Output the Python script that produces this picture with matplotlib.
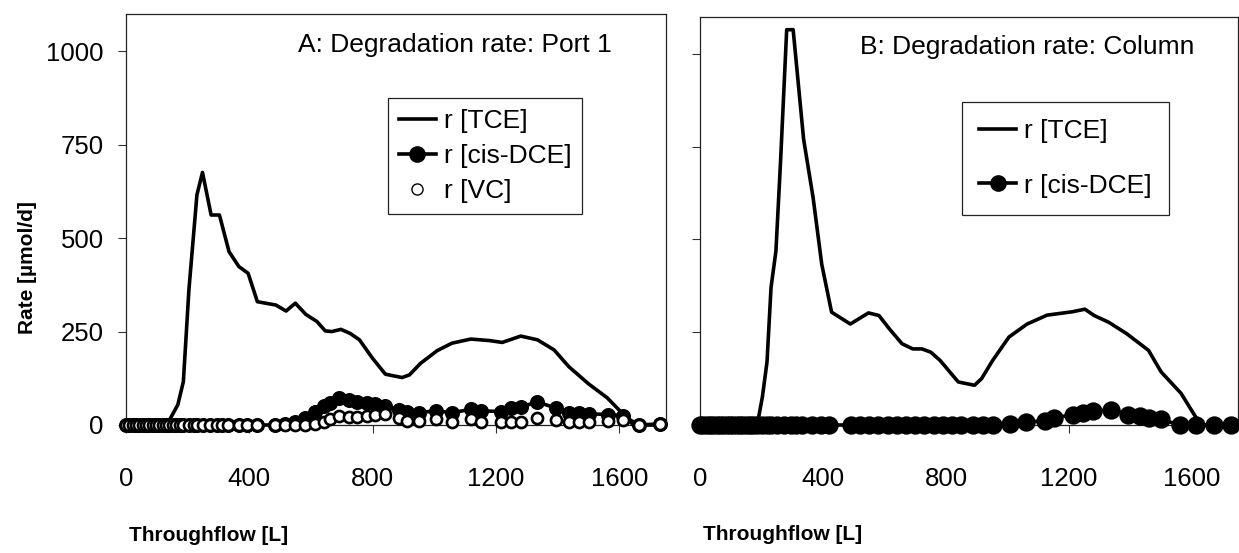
import matplotlib
matplotlib.use('Agg')
import matplotlib.pyplot as plt
from matplotlib.lines import Line2D

plt.rcParams['font.family'] = ['Liberation Sans', 'DejaVu Sans']

# ---- panel A: Port 1 ----
a_tce_x = [0, 132, 168, 186, 204, 230, 248, 276, 303, 334, 366, 396, 426, 486, 519, 549,
           583, 619, 646, 667, 697, 727, 757, 799, 841, 895, 919, 955, 1009, 1057, 1118,
           1178, 1220, 1280, 1334, 1388, 1436, 1500, 1560, 1605, 1645, 1732]
a_tce = [0, 0, 54, 116, 362, 616, 676, 562, 562, 464, 424, 406, 330, 321, 305, 326,
         296, 277, 252, 250, 256, 245, 228, 179, 136, 127, 134, 165, 199, 219, 230,
         226, 221, 238, 228, 201, 156, 110, 73, 35, 0, 0]

a_x = [0, 11, 22, 33, 43, 54, 65, 76, 87, 98, 108, 119, 130, 141, 152, 163, 174, 186,
       203, 219, 230, 251, 273, 295, 311, 332, 365, 392, 425,
       484, 517, 549, 582, 614, 641, 663, 690, 722, 749, 782, 809, 841,
       885, 912, 950, 1004, 1058, 1118, 1150, 1215, 1248, 1280, 1334, 1394, 1437, 1470,
       1502, 1562, 1610, 1664, 1732]
a_dce = [0, 0, 0, 0, 0, 0, 0, 0, 0, 0, 0, 0, 0, 0, 0, 0, 0, 0,
         0, 0, 0, 0, 0, 0, 0, 0, 0, 0, 0,
         0, 2, 8, 20, 35, 50, 60, 72, 66, 62, 58, 55, 50,
         40, 36, 33, 38, 33, 42, 38, 36, 45, 48, 62, 45, 33, 31,
         30, 28, 25, 0, 3]
a_vc = [0, 0, 0, 0, 0, 0, 0, 0, 0, 0, 0, 0, 0, 0, 0, 0, 0, 0,
        0, 0, 0, 0, 0, 0, 0, 0, 0, 0, 0,
        0, 0, 0, 1, 4, 9, 16, 24, 22, 22, 24, 27, 29,
        18, 12, 12, 16, 9, 15, 9, 9, 7, 9, 18, 13, 7, 7,
        9, 11, 13, 0, 4]

# ---- panel B: Column ----
b_tce_x = [0, 186, 203, 218, 231, 247, 262, 282, 303, 337, 368, 396, 428, 489, 548, 582,
           616, 657, 692, 722, 751, 781, 840, 893, 916, 952, 1005, 1064, 1129, 1211,
           1252, 1282, 1329, 1388, 1459, 1500, 1565, 1612, 1630, 1728]
b_tce = [0, 0, 76, 170, 370, 469, 710, 1065, 1065, 770, 612, 433, 304, 272, 302, 295,
         259, 219, 205, 205, 196, 174, 116, 107, 125, 174, 237, 272, 296, 305,
         312, 295, 277, 246, 201, 143, 85, 22, 0, 0]

b_x = [0, 11, 22, 33, 43, 54, 65, 76, 87, 98, 108, 119, 130, 141, 152, 163, 174, 186,
       203, 219, 230, 251, 273, 295, 311, 332, 365, 392, 421,
       492, 520, 550, 580, 610, 640, 670, 700, 730, 760, 790, 820, 850,
       888, 920, 953, 1007, 1062, 1121, 1153, 1213, 1245, 1278, 1338, 1392, 1430, 1462,
       1500, 1560, 1614, 1673, 1728]
b_dce = [0, 0, 0, 0, 0, 0, 0, 0, 0, 0, 0, 0, 0, 0, 0, 0, 0, 0,
         0, 0, 0, 0, 0, 0, 0, 0, 0, 0, 0,
         0, 0, 0, 0, 0, 0, 0, 0, 0, 0, 0, 0, 0,
         0, 0, 0, 4, 9, 10, 19, 28, 32, 37, 41, 28, 25, 20,
         15, 0, 0, 0, 0]

xticks = [0, 400, 800, 1200, 1600]
yticks = [0, 250, 500, 750, 1000]

W, H = 1239, 553
fig = plt.figure(figsize=(W / 100, H / 100), dpi=100)
axA = fig.add_axes([126 / W, 128 / H, 539.7 / W, 411 / H])
axB = fig.add_axes([700 / W, 128 / H, 538 / W, 408.3 / H])

lw = 2.6
fs = 18.5

# panel A
axA.plot(a_tce_x, a_tce, color='black', lw=lw, zorder=3, clip_on=False)
axA.plot(a_x, a_dce, color='black', lw=lw, marker='o', ms=9, mfc='black', mec='black',
         mew=1.8, zorder=4, clip_on=False)
axA.plot(a_x, a_vc, ls='none', marker='o', ms=8, mfc='white', mec='black',
         mew=1.9, zorder=5, clip_on=False)

# panel B
axB.plot(b_tce_x, b_tce, color='black', lw=lw, zorder=3, clip_on=False)
axB.plot(b_x, b_dce, color='black', lw=lw, marker='o', ms=12, mfc='black', mec='black',
         mew=1.2, zorder=4, clip_on=False)

for ax in (axA, axB):
    ax.set_xlim(0, 1750)
    ax.set_ylim(0, 1100)
    ax.set_xticks(xticks)
    ax.set_yticks(yticks)
    ax.tick_params(axis='both', direction='out', length=6, width=0.8, color='#333333',
                   labelsize=fs)
    ax.tick_params(axis='x', pad=24)
    ax.tick_params(axis='y', pad=10)
    for s in ax.spines.values():
        s.set_linewidth(0.9)
        s.set_color('#222222')
    ax.set_xlabel('Throughflow [L]', fontsize=15, fontweight='bold', ha='left')
    ax.xaxis.set_label_coords(0.005, -0.245)

axB.set_yticklabels([])

axA.set_ylabel('Rate [µmol/d]', fontsize=15, fontweight='bold')
axA.yaxis.set_label_coords(-0.165, 0.384)

axA.text(0.90, 0.925, 'A: Degradation rate: Port 1', transform=axA.transAxes,
         ha='right', va='center', fontsize=19)
axB.text(0.919, 0.925, 'B: Degradation rate: Column', transform=axB.transAxes,
         ha='right', va='center', fontsize=19)

h_tce = Line2D([], [], color='black', lw=lw)
h_dce = Line2D([], [], color='black', lw=lw, marker='o', ms=11, mfc='black', mec='black')
h_vc = Line2D([], [], ls='none', marker='o', ms=8, mfc='white', mec='black', mew=1.0)

legA = axA.legend([h_tce, h_dce, h_vc], ['r [TCE]', 'r [cis-DCE]', 'r [VC]'],
                  loc='upper left', bbox_to_anchor=(0.486, 0.795), borderaxespad=0,
                  fontsize=19, frameon=True, fancybox=False, edgecolor='#222222',
                  framealpha=1, handlelength=1.4, handletextpad=0.3,
                  borderpad=0.4, labelspacing=0.42)
legA.get_frame().set_linewidth(0.9)

legB = axB.legend([h_tce, h_dce], ['r [TCE]', 'r [cis-DCE]'],
                  loc='upper left', bbox_to_anchor=(0.487, 0.791), borderaxespad=0,
                  fontsize=19, frameon=True, fancybox=False, edgecolor='#222222',
                  framealpha=1, handlelength=1.4, handletextpad=0.3,
                  borderpad=0.65, labelspacing=1.15)
legB.get_frame().set_linewidth(0.9)

fig.savefig('out.png', dpi=100)
